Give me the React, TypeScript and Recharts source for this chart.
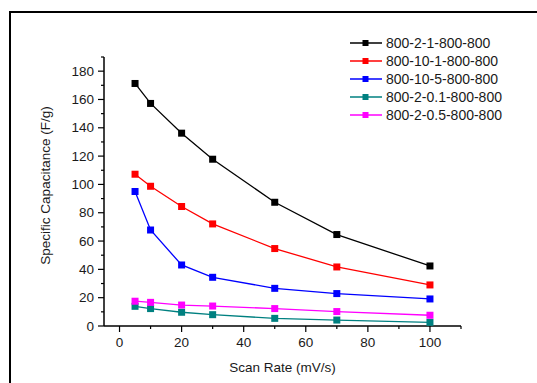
import { LineChart, Line, XAxis, YAxis, Legend } from "recharts";

const scanRates = [5, 10, 20, 30, 50, 70, 100];

const s800_2_1 = [171.3, 157.2, 136.2, 117.8, 87.4, 64.6, 42.4];
const s800_10_1 = [107.2, 98.7, 84.4, 72.1, 54.7, 41.7, 29.0];
const s800_10_5 = [95.0, 67.8, 43.1, 34.4, 26.6, 22.9, 19.1];
const s800_2_01 = [13.9, 12.3, 9.7, 8.0, 5.4, 4.2, 2.6];
const s800_2_05 = [17.5, 16.7, 14.8, 14.1, 12.3, 10.2, 7.6];

const xTicks = [0, 10, 20, 30, 40, 50, 60, 70, 80, 90, 100, 110];
const yTicks = [0, 10, 20, 30, 40, 50, 60, 70, 80, 90, 100, 110, 120, 130, 140, 150, 160, 170, 180, 190];

const SERIES = [
  { key: "a", name: "800-2-1-800-800", color: "#000000", values: s800_2_1 },
  { key: "b", name: "800-10-1-800-800", color: "#ff0000", values: s800_10_1 },
  { key: "c", name: "800-10-5-800-800", color: "#0000ff", values: s800_10_5 },
  { key: "d", name: "800-2-0.1-800-800", color: "#008080", values: s800_2_01 },
  { key: "e", name: "800-2-0.5-800-800", color: "#ff00ff", values: s800_2_05 },
];

const data = scanRates.map((rate, i) => {
  const row: any = { rate };
  SERIES.forEach((s) => (row[s.key] = s.values[i]));
  return row;
});

const FONT = "'Liberation Sans', Arial, sans-serif";
const TEXT = "#1a1a1a";

function YTick(props: any) {
  const { x, y, payload } = props;
  const major = payload.value % 20 === 0;
  return (
    <g>
      <line x1={x} x2={x - (major ? 6 : 3)} y1={y} y2={y} stroke="#000" strokeWidth={1.2} />
      {major && (
        <text x={x - 10} y={y} dy={4.5} textAnchor="end" fontSize={13.5} fill={TEXT} fontFamily={FONT}>
          {payload.value}
        </text>
      )}
    </g>
  );
}

function XTick(props: any) {
  const { x, y, payload } = props;
  const major = payload.value % 20 === 0;
  return (
    <g>
      <line x1={x} x2={x} y1={y} y2={y + (major ? 6 : 3)} stroke="#000" strokeWidth={1.2} />
      {major && (
        <text x={x} y={y + 21} textAnchor="middle" fontSize={13.5} fill={TEXT} fontFamily={FONT}>
          {payload.value}
        </text>
      )}
    </g>
  );
}

function renderLegend() {
  return (
    <div style={{ fontFamily: FONT, fontSize: 14, color: TEXT }}>
      {SERIES.map((s) => (
        <div key={s.key} style={{ display: "flex", alignItems: "center", height: 18 }}>
          <svg width={36} height={10} style={{ flex: "none" }}>
            <line x1={0} x2={32} y1={5} y2={5} stroke={s.color} strokeWidth={1.5} />
            <rect x={12.5} y={2} width={6} height={6} fill={s.color} />
          </svg>
          <span style={{ lineHeight: "18px" }}>{s.name}</span>
        </div>
      ))}
    </div>
  );
}

export default function App() {
  return (
    <div
      style={{
        position: "absolute",
        left: 0,
        top: 0,
        width: 537,
        height: 383,
        overflow: "hidden",
        background: "#fff",
      }}
    >
      <div
        style={{
          position: "absolute",
          left: 9,
          top: 11,
          width: 600,
          height: 420,
          border: "2px solid #000",
        }}
      />
      <div style={{ position: "absolute", left: 0, top: 0 }}>
        <LineChart
          width={537}
          height={383}
          data={data}
          margin={{ top: 57, right: 76, bottom: 0, left: 0 }}
        >
          <XAxis
            dataKey="rate"
            type="number"
            domain={[-5, 110]}
            ticks={xTicks}
            interval={0}
            allowDataOverflow
            height={57}
            stroke="#000"
            strokeWidth={1.5}
            tickLine={false}
            tickSize={0}
            tickMargin={0}
            tick={<XTick />}
            label={{
              value: "Scan Rate (mV/s)",
              position: "insideBottom",
              offset: 11,
              fontSize: 13.5,
              fill: TEXT,
              fontFamily: FONT,
            }}
          />
          <YAxis
            type="number"
            domain={[0, 190]}
            ticks={yTicks}
            interval={0}
            allowDataOverflow
            width={104}
            stroke="#000"
            strokeWidth={1.5}
            tickLine={false}
            tickSize={0}
            tickMargin={0}
            tick={<YTick />}
            label={{
              value: "Specific Capacitance (F/g)",
              angle: -90,
              position: "insideLeft",
              offset: 0,
              dx: 45,
              dy: -6,
              fontSize: 13.5,
              fill: TEXT,
              fontFamily: FONT,
              style: { textAnchor: "middle" },
            }}
          />
          <Legend
            content={renderLegend}
            layout="horizontal"
            verticalAlign="middle"
            align="center"
            wrapperStyle={{ position: "absolute", left: 350, top: 34, width: 185, height: "auto" }}
          />
          {SERIES.map((s) => (
            <Line
              key={s.key}
              dataKey={s.key}
              name={s.name}
              type="linear"
              stroke={s.color}
              strokeWidth={1.3}
              isAnimationActive={false}
              dot={(p: any) => (
                <rect
                  key={`${s.key}-${p.index}`}
                  x={p.cx - 3.5}
                  y={p.cy - 3.5}
                  width={7}
                  height={7}
                  fill={s.color}
                />
              )}
              activeDot={false}
            />
          ))}
        </LineChart>
      </div>
    </div>
  );
}
